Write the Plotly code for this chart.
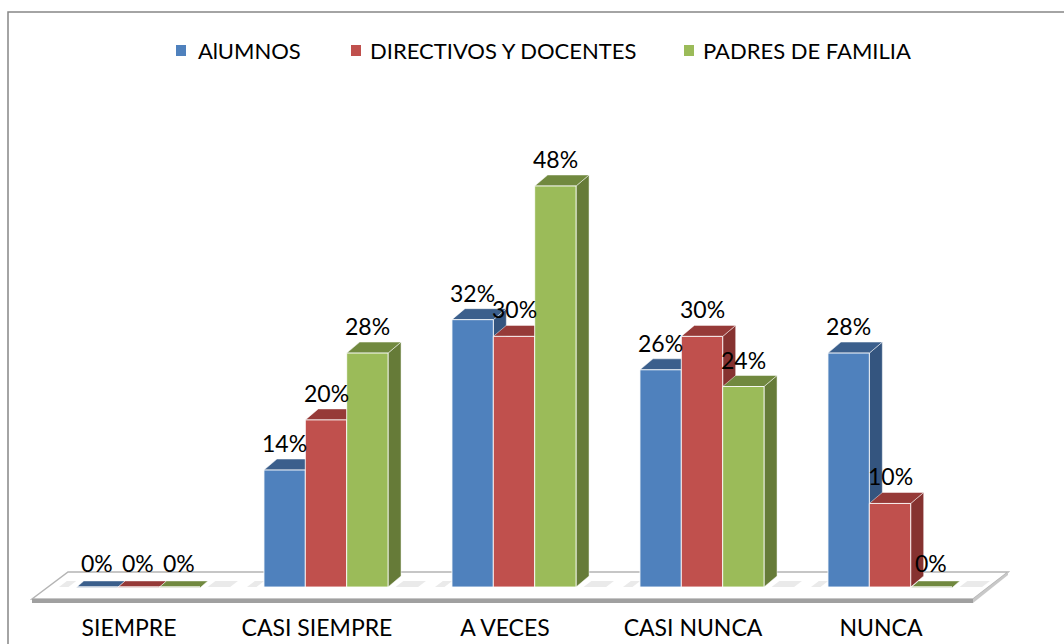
import plotly.graph_objects as go

categories = ["SIEMPRE", "CASI SIEMPRE", "A VECES", "CASI NUNCA", "NUNCA"]
series_names = ["AlUMNOS", "DIRECTIVOS Y DOCENTES", "PADRES DE FAMILIA"]
alumnos = [0, 14, 32, 26, 28]
directivos = [0, 20, 30, 30, 10]
padres = [0, 28, 48, 24, 0]
series_values = [alumnos, directivos, padres]

front_colors = ["#4F81BD", "#C0504D", "#9BBB59"]
top_colors = ["#3B5F8C", "#963A38", "#71893F"]
side_colors = ["#34557F", "#863230", "#667B38"]

W, H = 1064, 644
FONT = "Lato"

# pixel layout helpers (layout constants, not data)
L, R_EDGE = 30, 1010
T, B_EDGE = 90, 609
cat_px0, cat_step = 138.0, 188.0
y0_px, px_per_unit = 587.0, 8.354

xr = [(L - cat_px0) / cat_step, (R_EDGE - cat_px0) / cat_step]
yr = [(y0_px - B_EDGE) / px_per_unit, (y0_px - T) / px_per_unit]
plot_w = R_EDGE - L
plot_h = B_EDGE - T


def dx(px):
    return (px - cat_px0) / cat_step


def dy(py):
    return (y0_px - py) / px_per_unit


def pxp(px):
    return (px - L) / plot_w


def pyp(py):
    return (B_EDGE - py) / plot_h


def poly(pts):
    s = "M {},{}".format(dx(pts[0][0]), dy(pts[0][1]))
    for p in pts[1:]:
        s += " L {},{}".format(dx(p[0]), dy(p[1]))
    return s + " Z"


bar_w = 0.22
offsets = [-0.33, -0.11, 0.11]
depth_x = 13 / cat_step
depth_y = 11 / px_per_unit

fig = go.Figure()
for j, name in enumerate(series_names):
    fig.add_trace(go.Bar(
        x=list(range(len(categories))),
        y=series_values[j],
        name=name,
        width=bar_w,
        offset=offsets[j],
        marker=dict(color=front_colors[j], line=dict(color="rgba(255,255,255,0.85)", width=1)),
        hoverinfo="skip",
        showlegend=False,
        cliponaxis=False,
    ))

shapes = []
# floor slab
shapes.append(dict(type="path", xref="x", yref="y", layer="below",
                   path=poly([(32, 599), (68, 572), (1008, 572), (973, 599)]),
                   fillcolor="#FFFFFF", line=dict(color="#B4B4B4", width=1.5)))
shapes.append(dict(type="path", xref="x", yref="y", layer="below",
                   path=poly([(32, 599), (973, 599), (973, 603), (32, 603)]),
                   fillcolor="#A0A0A0", line=dict(width=0)))
shapes.append(dict(type="path", xref="x", yref="y", layer="below",
                   path=poly([(973, 599), (1008, 572), (1008, 575), (973, 603)]),
                   fillcolor="#C8C8C8", line=dict(width=0)))
# soft shadows on the floor between groups
for i in range(len(categories)):
    for sx0, sx1 in ((0.37, 0.49), (-0.42, -0.37)):
        a = i + sx0
        b = i + sx1
        shapes.append(dict(type="path", xref="x", yref="y", layer="below",
                           path=f"M {a},{0} L {a+depth_x*0.6},{depth_y*0.55} L {b+depth_x*0.6},{depth_y*0.55} L {b},{0} Z",
                           fillcolor="rgba(170,170,170,0.25)", line=dict(width=0)))

annotations = []
for i in range(len(categories)):
    for j in range(len(series_names)):
        v = series_values[j][i]
        x0 = i + offsets[j]
        x1 = x0 + bar_w
        if v > 0:
            shapes.append(dict(type="path", xref="x", yref="y", layer="below",
                               path=f"M {x1},{0} L {x1+depth_x},{depth_y} L {x1+depth_x},{v+depth_y} L {x1},{v} Z",
                               fillcolor=side_colors[j], line=dict(color="rgba(255,255,255,0.6)", width=0.8)))
            shapes.append(dict(type="path", xref="x", yref="y", layer="below",
                               path=f"M {x0},{v} L {x0+depth_x},{v+depth_y} L {x1+depth_x},{v+depth_y} L {x1},{v} Z",
                               fillcolor=top_colors[j], line=dict(color="rgba(255,255,255,0.6)", width=0.8)))
        else:
            shapes.append(dict(type="path", xref="x", yref="y", layer="below",
                               path=f"M {x0},{-0.1} L {x0+depth_x*0.6},{depth_y*0.55} L {x1+depth_x*0.6},{depth_y*0.55} L {x1},{-0.1} Z",
                               fillcolor=top_colors[j], line=dict(color="rgba(255,255,255,0.6)", width=0.8)))
        annotations.append(dict(x=(x0 + x1) / 2, y=v, xref="x", yref="y", text=f"{v}%",
                                showarrow=False, yshift=27 if v > 0 else 24, yanchor="middle",
                                font=dict(family=FONT, size=23, color="#000000")))

# legend drawn as squares + text (positions are layout constants)
legend_sq_x = [176, 351, 684]
legend_tx_x = [196, 368, 701]
for j, name in enumerate(series_names):
    shapes.append(dict(type="rect", xref="paper", yref="paper", layer="above",
                       x0=pxp(legend_sq_x[j]), x1=pxp(legend_sq_x[j] + 10),
                       y0=pyp(56), y1=pyp(45), fillcolor=front_colors[j], line=dict(width=0)))
    annotations.append(dict(x=pxp(legend_tx_x[j]), y=pyp(51), xref="paper", yref="paper",
                            text=name, showarrow=False, xanchor="left", yanchor="middle",
                            font=dict(family=FONT, size=22, color="#000000")))

# outer chart border (left and top only visible)
bx0 = pxp(8)
by_top = pyp(12)
by_bot = pyp(700)
bx1 = pxp(1100)
shapes.append(dict(type="path", xref="paper", yref="paper", layer="above",
                   path=f"M {bx0},{by_bot} L {bx0},{by_top} L {bx1},{by_top}",
                   line=dict(color="#878787", width=1.5)))

fig.update_layout(
    template="none",
    width=W, height=H,
    margin=dict(l=L, r=W - R_EDGE, t=T, b=H - B_EDGE, pad=0, autoexpand=False),
    paper_bgcolor="white", plot_bgcolor="rgba(0,0,0,0)",
    barmode="overlay",
    showlegend=False,
    xaxis=dict(range=xr, tickmode="array", tickvals=list(range(len(categories))), ticktext=categories,
               showgrid=False, zeroline=False, showline=False, ticks="", automargin=False,
               ticklabelshift=-9, ticklabelstandoff=3,
               tickfont=dict(family=FONT, size=23, color="#000000")),
    yaxis=dict(range=yr, visible=False, showgrid=False, zeroline=False, automargin=False),
    shapes=shapes,
    annotations=annotations,
)

fig.write_html("out.html", config={"displayModeBar": False},
               post_script="document.body.style.margin='0';document.body.style.overflow='hidden';")
